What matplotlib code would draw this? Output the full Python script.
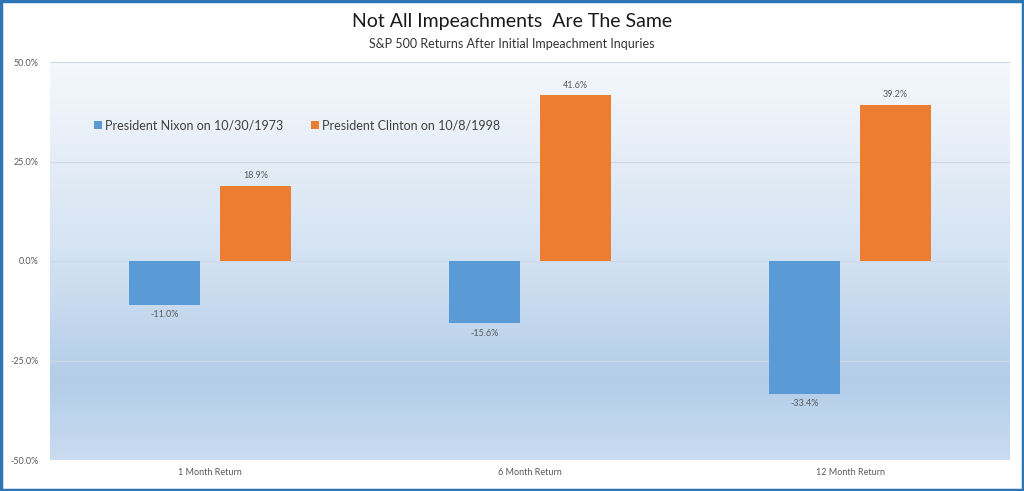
import numpy as np
import matplotlib
matplotlib.use("Agg")
import matplotlib.pyplot as plt
from matplotlib.colors import LinearSegmentedColormap
from matplotlib.patches import Rectangle

categories = ["1 Month Return", "6 Month Return", "12 Month Return"]
nixon = [-11.0, -15.6, -33.4]
clinton = [18.9, 41.6, 39.2]
series_names = ["President Nixon on 10/30/1973", "President Clinton on 10/8/1998"]
yticks = [-50, -25, 0, 25, 50]

plt.rcParams['font.family'] = ['Lato', 'DejaVu Sans']

fig = plt.figure(figsize=(10.24, 4.91), dpi=100)
W, H = 1024, 491
ax = fig.add_axes([50 / W, (H - 460) / H, 960 / W, 398 / H])

# gradient background
grad_cmap = LinearSegmentedColormap.from_list(
    "bg", [(0.0, "#c9dcf0"), (0.2, "#b3cde9"), (0.5, "#d3e2f2"), (0.75, "#e4edf7"), (1.0, "#f5f8fc")])
g = np.linspace(0, 1, 256).reshape(-1, 1)
ax.imshow(g, aspect="auto", cmap=grad_cmap, origin="lower",
          extent=[-0.5, len(categories) - 0.5, -50, 50], zorder=0)

x = np.arange(len(categories))
bw = 0.222
off = 0.142
c_nix = "#5b9bd5"
c_cli = "#ed7d31"
b1 = ax.bar(x - off, nixon, bw, color=c_nix, label=series_names[0], zorder=3)
b2 = ax.bar(x + off, clinton, bw, color=c_cli, label=series_names[1], zorder=3)

for bars, vals in ((b1, nixon), (b2, clinton)):
    for rect, v in zip(bars, vals):
        cx = rect.get_x() + rect.get_width() / 2
        if v >= 0:
            ax.annotate(f"{v:.1f}%", (cx, v), xytext=(0, 4), textcoords="offset points",
                        ha="center", va="bottom", fontsize=6.5, color="#595959")
        else:
            ax.annotate(f"{v:.1f}%", (cx, v), xytext=(0, -4), textcoords="offset points",
                        ha="center", va="top", fontsize=6.5, color="#595959")

ax.set_xlim(-0.5, len(categories) - 0.5)
ax.set_ylim(-50, 50)
ax.set_yticks(yticks)
ax.set_yticklabels([f"{t:.1f}%" for t in yticks])
ax.set_xticks(x)
ax.set_xticklabels(categories)
ax.tick_params(axis="both", length=0, labelsize=6.5, colors="#595959")
ax.tick_params(axis="y", pad=8)
ax.tick_params(axis="x", pad=6)
for yt in yticks:
    ax.axhline(yt, color="#d0d8e2", lw=0.8, zorder=1)
for s in ax.spines.values():
    s.set_visible(False)

leg = ax.legend(loc="center left", bbox_to_anchor=(0.046, 0.84), ncol=2, frameon=False,
                fontsize=9.0, handlelength=0.6, handleheight=0.6, handletextpad=0.3,
                columnspacing=2.2, labelcolor="#404040", borderaxespad=0, borderpad=0)

fig.text(0.5, 1 - 21 / H, "Not All Impeachments  Are The Same", ha="center", va="center",
         fontsize=14, color="#1a1a1a")
fig.text(0.5, 1 - 44 / H, "S&P 500 Returns After Initial Impeachment Inquries", ha="center",
         va="center", fontsize=9, color="#333333")

fig.patches.append(Rectangle((0.0012, 0.0025), 0.9976, 0.995, transform=fig.transFigure,
                             fill=False, edgecolor="#2e75b6", lw=2.5))

fig.savefig("out.png", dpi=100)
